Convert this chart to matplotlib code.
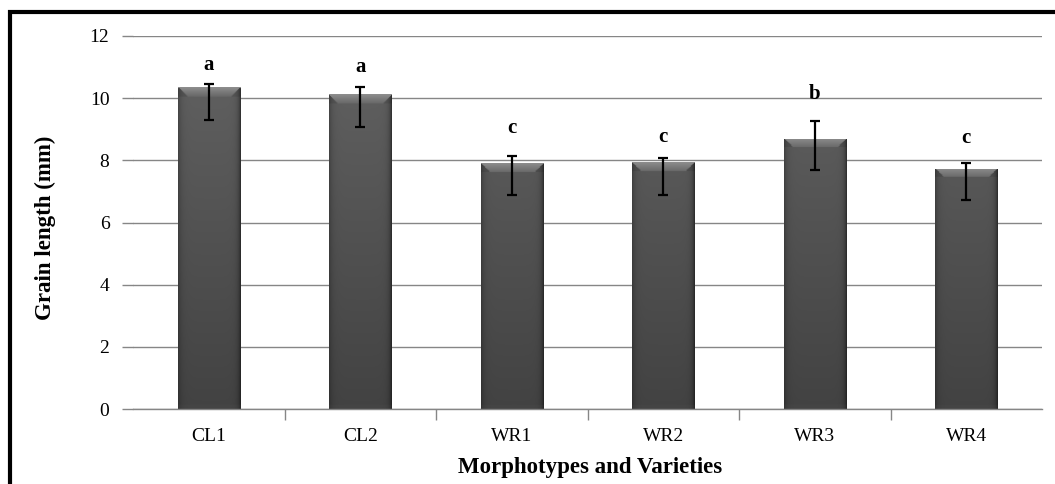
import numpy as np
import matplotlib
matplotlib.use('Agg')
import matplotlib.pyplot as plt
from matplotlib.lines import Line2D

categories = ['CL1', 'CL2', 'WR1', 'WR2', 'WR3', 'WR4']
means = [10.35, 10.12, 7.90, 7.94, 8.69, 7.73]
err_low = [1.05, 1.06, 1.01, 1.05, 1.01, 1.00]
err_high = [0.11, 0.25, 0.24, 0.14, 0.58, 0.20]
letters = ['a', 'a', 'c', 'c', 'b', 'c']
letter_y = [11.07, 11.0, 9.04, 8.75, 10.15, 8.72]
yticks = [0, 2, 4, 6, 8, 10, 12]

W, H = 1055, 484
fig = plt.figure(figsize=(W / 100, H / 100), dpi=100)
ax = fig.add_axes([133 / W, 1 - 409 / H, 909 / W, 373 / H])

serif = 'Liberation Serif'
grid_c = '#868686'

x = np.arange(len(categories))
bw = 0.41
bars = ax.bar(x, means, width=bw, color='#555555', edgecolor='none', zorder=2)

# gradient shading clipped to each bar
for b, h in zip(bars, means):
    x0 = b.get_x()
    nx, ny = 60, 300
    xs = np.linspace(0, 1, nx)
    ys = np.linspace(h, 0, ny)
    hp = 1.0 - 0.25 * np.exp(-xs / 0.05) - 0.45 * np.exp(-(1 - xs) / 0.04)
    vp = 0.26 + 0.13 * (ys / 12.0)
    img = vp[:, None] * hp[None, :]
    depth = h - ys
    band = depth < 0.28
    bevel = np.where(band[:, None], 0.55 - 0.5 * depth[:, None], img)
    corner = (depth[:, None] < 0.28) & ((xs[None, :] * bw * 151.5 < depth[:, None] * 31.08) |
                                        ((1 - xs[None, :]) * bw * 151.5 < depth[:, None] * 31.08))
    bevel = np.where(corner, img * 0.9, bevel)
    bot = ys < 0.12
    bevel = np.where(bot[:, None], bevel * 0.92 + 0.03, bevel)
    rgb = np.clip(np.repeat(bevel[:, :, None], 3, axis=2), 0, 1)
    im = ax.imshow(rgb, extent=[x0, x0 + bw, 0, h], aspect='auto', zorder=2.5,
                   interpolation='bilinear')
    im.set_clip_path(b)

ax.errorbar(x, means, yerr=[err_low, err_high], fmt='none', ecolor='black',
            elinewidth=1.6, capsize=3.8, capthick=1.6, zorder=4)

for xi, t, ly in zip(x, letters, letter_y):
    ax.text(xi, ly, t, ha='center', va='center', fontsize=15, fontweight='bold',
            family=serif, color='black', zorder=5)

ax.set_xlim(-0.5, len(categories) - 0.5)
ax.set_ylim(0, 12)
ax.set_yticks(yticks)
ax.set_yticklabels([str(v) for v in yticks], family=serif, fontsize=14)
ax.yaxis.grid(True, color=grid_c, linewidth=1.0, zorder=0)
ax.set_axisbelow(True)
ax.tick_params(axis='y', length=8, width=1.0, color=grid_c, pad=9, labelcolor='black')

ax.set_xticks(x[:-1] + 0.5)
ax.set_xticklabels([])
ax.set_xticks(x, minor=True)
ax.set_xticklabels(categories, minor=True, family=serif, fontsize=14)
ax.tick_params(axis='x', which='major', length=8, width=1.0, color=grid_c)
ax.tick_params(axis='x', which='minor', length=0, pad=14)

for s in ['top', 'right', 'left']:
    ax.spines[s].set_visible(False)
ax.spines['bottom'].set_color(grid_c)
ax.spines['bottom'].set_linewidth(1.0)
ax.spines['bottom'].set_zorder(3)

ylab = ax.set_ylabel('Grain length (mm)', family=serif, fontsize=16.5, fontweight='bold')
ylab.set_va('center')
ylab.set_ha('center')
ax.yaxis.set_label_coords(45 / W, 1 - 228 / H, transform=fig.transFigure)
xlab = ax.set_xlabel('Morphotypes and Varieties', family=serif, fontsize=16.5, fontweight='bold')
xlab.set_va('center')
ax.xaxis.set_label_coords(590 / W, 1 - 467 / H, transform=fig.transFigure)

# figure border (top and left visible)
fig.add_artist(Line2D([9.5 / W, 9.5 / W, 1.0], [0.0, 1 - 12 / H, 1 - 12 / H],
                      transform=fig.transFigure, color='black', linewidth=3.0,
                      solid_joinstyle='miter'))

fig.savefig('out.png', dpi=100, facecolor='white')
